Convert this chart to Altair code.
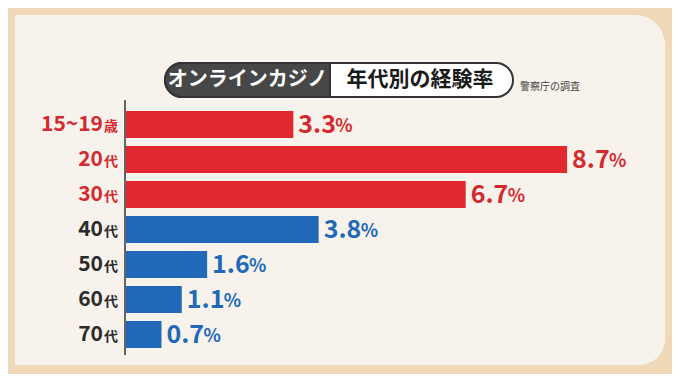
import altair as alt
import pandas as pd

ages = ["15~19歳", "20代", "30代", "40代", "50代", "60代", "70代"]
age_nums = ["15~19", "20", "30", "40", "50", "60", "70"]
age_suffix = ["歳", "代", "代", "代", "代", "代", "代"]
rates = [3.3, 8.7, 6.7, 3.8, 1.6, 1.1, 0.7]
groups = ["若年", "若年", "若年", "中高年", "中高年", "中高年", "中高年"]

title_left = "オンラインカジノ"
title_right = "年代別の経験率"
source = "警察庁の調査"

RED = "#E1282E"
RED_TXT = "#D42A2F"
BLUE = "#2169B8"
DARK = "#2B2B2B"
OUTER = "#EFD9B8"
INNER = "#F7F2EB"
FONT = "Noto Sans CJK JP"

df = pd.DataFrame({
    "age": ages, "num": age_nums, "suffix": age_suffix,
    "rate": rates, "group": groups,
})
df["rate_txt"] = df["rate"].map(lambda v: f"{v:.1f}")

one = alt.Data(values=[{"k": 1}])

yenc = alt.Y("age:N", sort=ages, axis=None,
             scale=alt.Scale(paddingInner=0.23, paddingOuter=0.115))
xscale = alt.Scale(domain=[0, 10])

panel = alt.Chart(one).mark_rect(
    color=INNER, cornerRadiusTopRight=30, cornerRadiusBottomRight=26
).encode(x=alt.value(-111), x2=alt.value(539), y=alt.value(-92), y2=alt.value(258))

pill = alt.Chart(one).mark_rect(
    color="white", stroke="#333333", strokeWidth=2, cornerRadius=17
).encode(x=alt.value(39), x2=alt.value(387), y=alt.value(-44), y2=alt.value(-10))

pill_dark = alt.Chart(one).mark_rect(
    color="#474747", stroke="#333333", strokeWidth=2,
    cornerRadiusTopLeft=17, cornerRadiusBottomLeft=17
).encode(x=alt.value(39), x2=alt.value(204), y=alt.value(-44), y2=alt.value(-10))

t_left = alt.Chart(one).mark_text(
    text=title_left, font=FONT, fontSize=20, fontWeight="bold", color="white",
    align="center", baseline="middle"
).encode(x=alt.value(121.5), y=alt.value(-27))

t_right = alt.Chart(one).mark_text(
    text=title_right, font=FONT, fontSize=21, fontWeight="bold", color="#1a1a1a",
    align="center", baseline="middle"
).encode(x=alt.value(294), y=alt.value(-27))

t_src = alt.Chart(one).mark_text(
    text=source, font=FONT, fontSize=10, color="#444444",
    align="left", baseline="middle"
).encode(x=alt.value(394), y=alt.value(-20))

base = alt.Chart(df)

bars = base.mark_bar().encode(
    x=alt.X("rate:Q", scale=xscale, axis=None),
    y=yenc,
    color=alt.Color("group:N", scale=alt.Scale(domain=["若年", "中高年"], range=[RED, BLUE]),
                    legend=None),
)

axis_line = alt.Chart(one).mark_rule(color="#333333", strokeWidth=1.5).encode(
    x=alt.value(-1), y=alt.value(-7), y2=alt.value(248))

lab_color = alt.condition(alt.datum.group == "若年", alt.value(RED_TXT), alt.value(DARK))
val_color = alt.condition(alt.datum.group == "若年", alt.value(RED_TXT), alt.value(BLUE))

lab_num = base.mark_text(font=FONT, fontSize=21, fontWeight="bold", align="right",
                         baseline="middle").encode(
    x=alt.value(-23), y=yenc, text="num:N", color=lab_color)
lab_suf = base.mark_text(font=FONT, fontSize=14, fontWeight="bold", align="right",
                         baseline="middle", dy=2).encode(
    x=alt.value(-8), y=yenc, text="suffix:N", color=lab_color)

val_num = base.mark_text(font=FONT, fontSize=25, fontWeight="bold", align="left",
                         baseline="middle", dx=5).encode(
    x=alt.X("rate:Q", scale=xscale), y=yenc, text="rate_txt:N", color=val_color)
val_pct = base.mark_text(font=FONT, fontSize=18, fontWeight="bold", align="left",
                         baseline="middle", dx=42, dy=2, text="%").encode(
    x=alt.X("rate:Q", scale=xscale), y=yenc, color=val_color)

chart = alt.layer(
    panel, pill, pill_dark, t_left, t_right, t_src,
    bars, axis_line, lab_num, lab_suf, val_num, val_pct
).properties(
    width=507, height=245,
    autosize=alt.AutoSizeParams(type="none"),
    padding={"left": 118, "top": 99, "right": 39, "bottom": 22},
    background=OUTER,
).configure_view(stroke=None)

chart.save("out.html", embed_options={"renderer": "svg", "actions": False})
